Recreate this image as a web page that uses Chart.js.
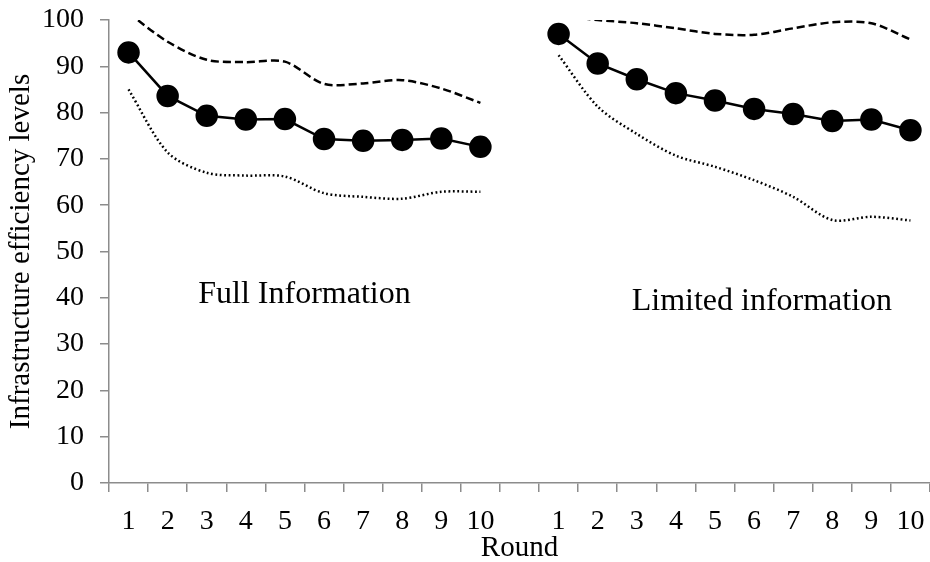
<!DOCTYPE html>
<html>
<head>
<meta charset="utf-8">
<script src="https://cdn.jsdelivr.net/npm/chart.js@4.4.0/dist/chart.umd.min.js"></script>
<style>
  body { margin: 0; background: #fff; }
  #myChart { display: block; }
</style>
</head>
<body>
<canvas id="myChart" width="930" height="562"></canvas>
<script>
var rounds = ['1', '2', '3', '4', '5', '6', '7', '8', '9', '10'];

// Full information treatment
var fullMean  = [93.0, 83.6, 79.3, 78.5, 78.6, 74.3, 73.9, 74.1, 74.4, 72.6];
var fullUpper = [101.5, 95.3, 91.4, 90.9, 91.0, 86.2, 86.3, 87.0, 85.2, 82.1];
var fullLower = [85.0, 71.4, 67.0, 66.4, 66.2, 62.6, 61.8, 61.4, 62.9, 62.9];

// Limited information treatment
var limMean  = [97.0, 90.6, 87.2, 84.2, 82.6, 80.8, 79.7, 78.2, 78.5, 76.2];
var limUpper = [101.0, 100.0, 99.3, 98.2, 97.0, 96.8, 98.2, 99.5, 99.3, 95.8];
var limLower = [92.4, 81.3, 75.4, 70.7, 68.3, 65.4, 61.8, 56.8, 57.5, 56.7];

var yTicks = [0, 10, 20, 30, 40, 50, 60, 70, 80, 90, 100];

var groupNames = ['Full Information', 'Limited information'];

// one empty category between the two groups
var labels = rounds.concat(['']).concat(rounds);
function join(a, b) { return a.concat([null]).concat(b); }

var serif = "'Liberation Serif', 'Times New Roman', serif";
var axisGrey = '#8c8c8c';

var groupText = {
    id: 'groupText',
    afterDatasetsDraw: function(chart) {
        var ctx = chart.ctx;
        var x = chart.scales.x, y = chart.scales.y;
        ctx.save();
        ctx.font = '32px ' + serif;
        ctx.fillStyle = '#000';
        ctx.textAlign = 'center';
        ctx.textBaseline = 'middle';
        ctx.fillText(groupNames[0], x.getPixelForValue(4.5), y.getPixelForValue(40.6));
        ctx.fillText(groupNames[1], x.getPixelForValue(16.2), y.getPixelForValue(39.1));
        ctx.restore();
    }
};

new Chart(document.getElementById('myChart'), {
    type: 'line',
    data: {
        labels: labels,
        datasets: [
            {
                label: 'Mean',
                data: join(fullMean, limMean),
                borderColor: '#000',
                backgroundColor: '#000',
                borderWidth: 2.5,
                pointRadius: 10,
                pointHoverRadius: 10,
                tension: 0,
                clip: 0
            },
            {
                label: 'Upper',
                data: join(fullUpper, limUpper),
                borderColor: '#000',
                borderWidth: 2.5,
                borderDash: [8, 4],
                pointRadius: 0,
                tension: 0.3,
                clip: 0
            },
            {
                label: 'Lower',
                data: join(fullLower, limLower),
                borderColor: '#000',
                borderWidth: 2.5,
                borderDash: [1.8, 2.6],
                pointRadius: 0,
                tension: 0.3,
                clip: 0
            }
        ]
    },
    options: {
        responsive: false,
        animation: false,
        devicePixelRatio: 1,
        layout: {
            autoPadding: false,
            padding: { top: 20, right: 0, left: 0, bottom: 0 }
        },
        plugins: {
            legend: { display: false },
            tooltip: { enabled: false }
        },
        scales: {
            x: {
                type: 'category',
                offset: true,
                grid: {
                    offset: true,
                    drawOnChartArea: false,
                    drawTicks: true,
                    tickLength: 9,
                    color: axisGrey,
                    lineWidth: 1.5
                },
                border: { display: true, color: axisGrey, width: 1.5 },
                ticks: {
                    autoSkip: false,
                    maxRotation: 0,
                    color: '#000',
                    padding: 13,
                    font: { family: serif, size: 28 }
                },
                title: {
                    display: true,
                    text: 'Round',
                    color: '#000',
                    padding: { top: 0, bottom: -4 },
                    font: { family: serif, size: 29 }
                },
                afterFit: function(s) {
                    s.height = 79;
                    s.paddingLeft = 0;
                    s.paddingRight = 0;
                }
            },
            y: {
                min: 0,
                max: 100,
                afterBuildTicks: function(s) {
                    s.ticks = yTicks.map(function(v) { return { value: v }; });
                },
                grid: {
                    drawOnChartArea: false,
                    drawTicks: true,
                    tickLength: 9,
                    color: axisGrey,
                    lineWidth: 1.5
                },
                border: { display: true, color: axisGrey, width: 1.5 },
                ticks: {
                    color: '#000',
                    padding: 16,
                    font: { family: serif, size: 28 }
                },
                title: {
                    display: true,
                    text: 'Infrastructure efficiency levels',
                    color: '#000',
                    padding: { top: 4, bottom: 0 },
                    font: { family: serif, size: 29 }
                },
                afterFit: function(s) {
                    s.width = 109;
                    s.paddingTop = 0;
                    s.paddingBottom = 0;
                }
            }
        }
    },
    plugins: [groupText]
});
</script>
</body>
</html>
